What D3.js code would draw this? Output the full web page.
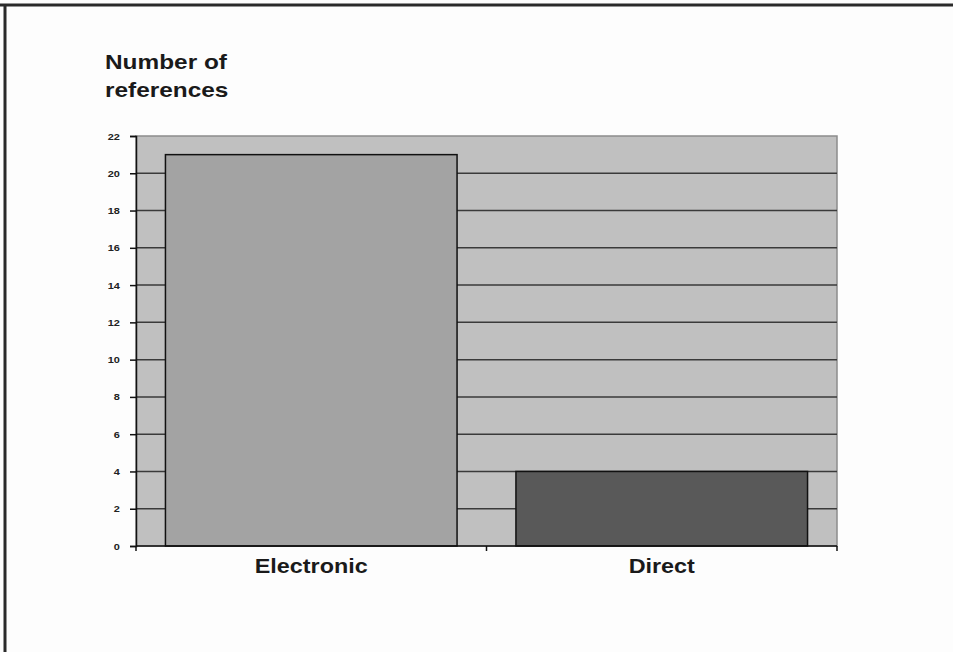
<!DOCTYPE html>
<html>
<head>
<meta charset="utf-8">
<script src="https://cdn.jsdelivr.net/npm/d3@7"></script>
<style>
  html, body { margin: 0; padding: 0; background: #fdfdfd; }
  svg { display: block; }
</style>
</head>
<body>
<script>
// Chart data
const categories = ["Electronic", "Direct"];
const referenceCounts = [21, 4];
const barFills = ["#a3a3a3", "#595959"];
const yTickValues = [0, 2, 4, 6, 8, 10, 12, 14, 16, 18, 20, 22];
const titleLines = ["Number of", "references"];

const W = 953, H = 652;
const plot = { left: 136, right: 837, top: 136, bottom: 546 };
const FONT = "Liberation Sans, Arial, sans-serif";

const svg = d3.select("body").append("svg")
  .attr("width", W).attr("height", H);

// page frame (top and left edges)
svg.append("line").attr("x1", 0).attr("x2", W).attr("y1", 5).attr("y2", 5)
  .attr("stroke", "#2a2a2a").attr("stroke-width", 3);
svg.append("line").attr("x1", 5).attr("x2", 5).attr("y1", 4).attr("y2", H)
  .attr("stroke", "#2a2a2a").attr("stroke-width", 3);

const x = d3.scaleBand()
  .domain(categories)
  .range([plot.left, plot.right])
  .paddingInner(0.168)
  .paddingOuter(0.084);

const y = d3.scaleLinear()
  .domain([0, 22])
  .range([plot.bottom, plot.top]);

// plot background
svg.append("rect")
  .attr("x", plot.left).attr("y", plot.top)
  .attr("width", plot.right - plot.left).attr("height", plot.bottom - plot.top)
  .attr("fill", "#c0c0c0")
  .attr("stroke", "#8c8c8c").attr("stroke-width", 1.5);

// horizontal gridlines
svg.append("g").selectAll("line")
  .data(yTickValues.filter(v => v > 0 && v < 22))
  .join("line")
  .attr("x1", plot.left).attr("x2", plot.right)
  .attr("y1", d => y(d)).attr("y2", d => y(d))
  .attr("stroke", "#3a3a3a").attr("stroke-width", 1.5);

// bars
svg.append("g").selectAll("rect")
  .data(categories.map((c, i) => ({ c, v: referenceCounts[i], fill: barFills[i] })))
  .join("rect")
  .attr("x", d => x(d.c))
  .attr("y", d => y(d.v))
  .attr("width", x.bandwidth())
  .attr("height", d => y(0) - y(d.v))
  .attr("fill", d => d.fill)
  .attr("stroke", "#111").attr("stroke-width", 1.5);

// y axis
const yAxis = svg.append("g")
  .attr("transform", `translate(${plot.left},0)`)
  .call(d3.axisLeft(y).tickValues(yTickValues).tickSize(6).tickPadding(8));
yAxis.select(".domain").attr("stroke", "#111").attr("stroke-width", 1.5);
yAxis.selectAll(".tick line").attr("stroke", "#111").attr("stroke-width", 1.5);
yAxis.selectAll(".tick text")
  .attr("font-family", FONT)
  .attr("font-size", 9.5).attr("font-weight", "bold").attr("fill", "#222")
  .attr("transform", "scale(1.15,1)");

// x axis with ticks between categories
const xAxisG = svg.append("g").attr("transform", `translate(0,${plot.bottom})`);
xAxisG.append("line")
  .attr("x1", plot.left).attr("x2", plot.right)
  .attr("stroke", "#111").attr("stroke-width", 1.5);
const boundaries = [plot.left, (x(categories[0]) + x.bandwidth() + x(categories[1])) / 2, plot.right];
xAxisG.selectAll(".sep").data(boundaries).join("line")
  .attr("class", "sep")
  .attr("x1", d => d).attr("x2", d => d)
  .attr("y1", 0).attr("y2", 5)
  .attr("stroke", "#111").attr("stroke-width", 1.5);
xAxisG.selectAll("text").data(categories).join("text")
  .attr("transform", d => `translate(${x(d) + x.bandwidth() / 2},27) scale(1.14,1)`)
  .attr("text-anchor", "middle")
  .attr("font-family", FONT)
  .attr("font-size", 20.5).attr("font-weight", "bold").attr("fill", "#1a1a1a")
  .text(d => d);

// axis title
svg.append("g").selectAll("text").data(titleLines).join("text")
  .attr("transform", (d, i) => `translate(105,${69 + i * 28}) scale(1.22,1)`)
  .attr("font-family", FONT)
  .attr("font-size", 20).attr("font-weight", "bold").attr("fill", "#1a1a1a")
  .text(d => d);
</script>
</body>
</html>
